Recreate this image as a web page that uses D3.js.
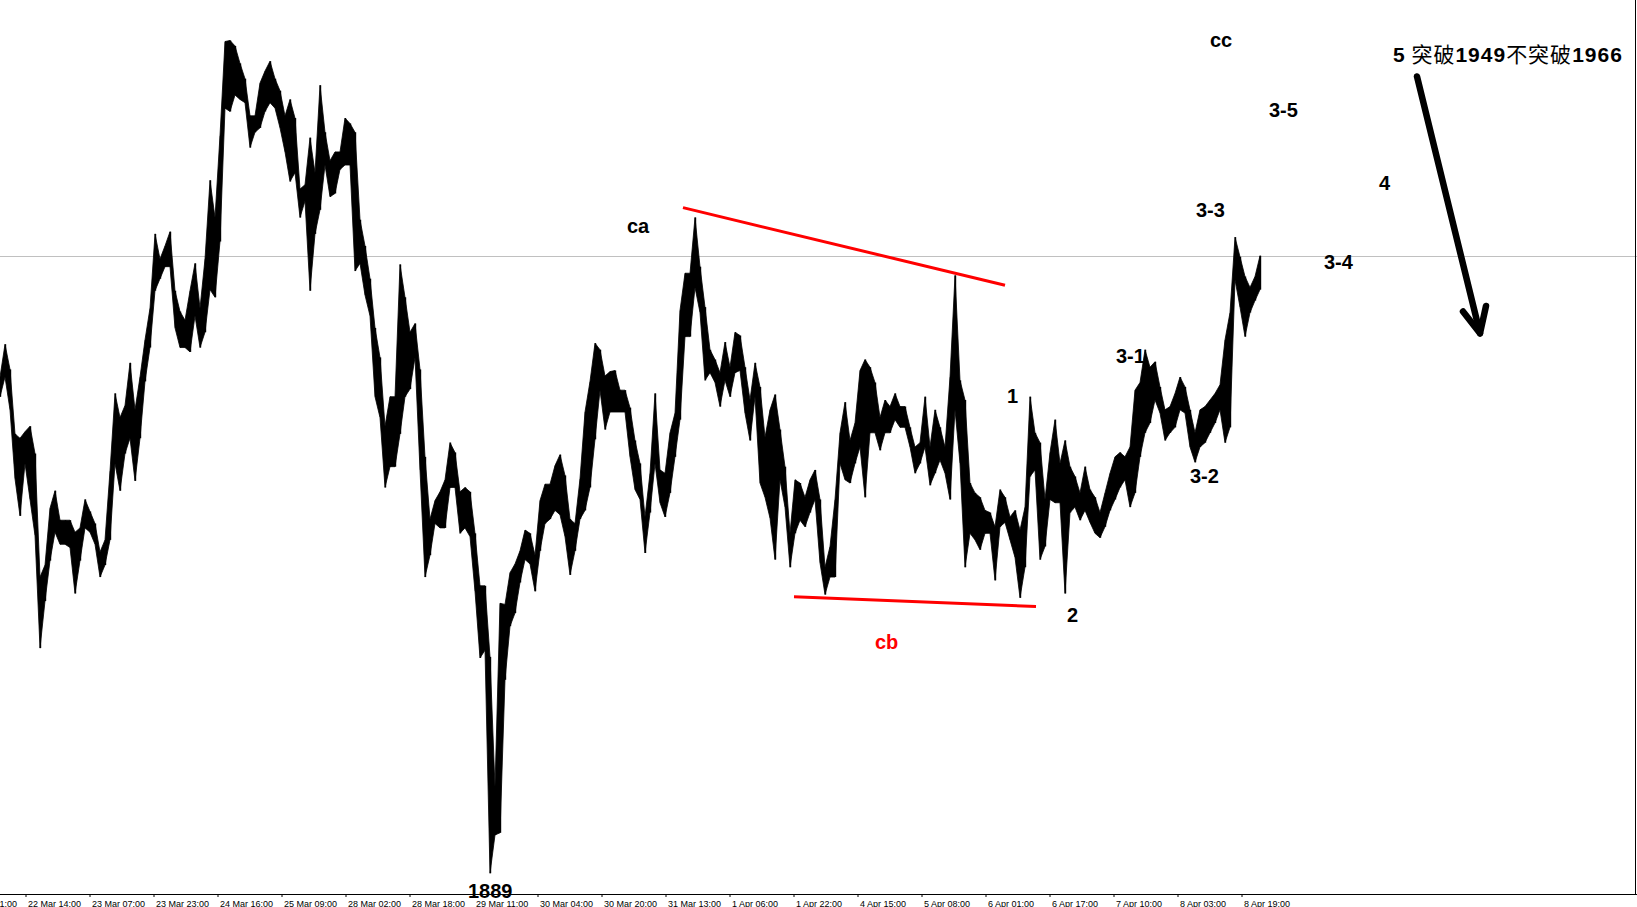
<!DOCTYPE html>
<html><head><meta charset="utf-8">
<script src="https://cdn.jsdelivr.net/npm/d3@7/dist/d3.min.js"></script>
<style>html,body{margin:0;padding:0;background:#fff;overflow:hidden}</style>
</head><body><svg id="c" width="1637" height="907"></svg>
<script>
// ---- data ----
const timeLabels = ["21 Mar 21:00","22 Mar 14:00","23 Mar 07:00","23 Mar 23:00","24 Mar 16:00","25 Mar 09:00",
  "28 Mar 02:00","28 Mar 18:00","29 Mar 11:00","30 Mar 04:00","30 Mar 20:00","31 Mar 13:00","1 Apr 06:00",
  "1 Apr 22:00","4 Apr 15:00","5 Apr 08:00","6 Apr 01:00","6 Apr 17:00","7 Apr 10:00","8 Apr 03:00","8 Apr 19:00"];

const barHigh = [
1935.2,1938.2,1935.9,1930.0,1929.6,1930.2,1930.7,1928.2,1916.9,1918.0,
1923.2,1924.8,1922.1,1922.1,1922.1,1921.0,1921.4,1924.0,1922.9,1921.8,
1919.2,1920.3,1926.6,1933.7,1931.5,1932.6,1936.5,1932.2,1935.2,1938.6,
1941.5,1948.3,1946.0,1947.2,1948.5,1943.1,1941.2,1940.4,1943.1,1945.6,
1941.5,1946.0,1953.2,1949.8,1957.3,1965.9,1966.0,1965.5,1963.9,1962.5,
1959.1,1959.1,1962.1,1963.2,1964.1,1962.5,1961.4,1959.1,1960.6,1958.9,
1952.4,1952.8,1957.1,1953.9,1961.9,1957.6,1955.0,1955.8,1955.8,1958.9,
1958.4,1957.6,1949.6,1947.2,1944.2,1939.7,1937.0,1930.7,1933.4,1933.4,
1945.5,1942.5,1939.3,1940.1,1935.9,1927.9,1922.2,1923.9,1924.7,1925.8,
1929.2,1928.3,1924.7,1925.1,1924.7,1920.9,1916.1,1916.1,1909.6,1897.7,
1914.5,1914.4,1917.3,1918.1,1919.3,1921.2,1920.9,1918.9,1923.9,1925.4,
1925.4,1927.1,1928.1,1926.2,1922.2,1921.8,1925.9,1932.0,1934.8,1938.3,
1937.7,1935.3,1935.7,1935.8,1934.0,1934.0,1932.4,1929.4,1927.3,1922.4,
1926.4,1933.7,1926.7,1926.4,1930.1,1931.9,1941.3,1944.7,1944.7,1949.8,
1945.3,1941.6,1937.7,1936.8,1935.6,1938.4,1936.1,1939.3,1939.0,1936.1,
1933.1,1936.5,1934.3,1929.7,1932.2,1933.6,1930.4,1927.0,1920.9,1925.8,
1925.5,1924.2,1925.8,1926.7,1924.0,1917.8,1919.7,1924.0,1930.1,1932.9,
1929.4,1931.0,1935.8,1936.8,1936.1,1934.7,1931.5,1933.1,1932.5,1933.7,
1932.5,1932.5,1930.6,1928.8,1929.2,1933.4,1928.8,1932.2,1930.6,1928.8,
1935.2,1944.5,1934.9,1933.1,1925.5,1924.6,1924.2,1923.0,1922.8,1921.5,
1924.9,1924.2,1922.4,1923.0,1921.2,1923.3,1933.4,1930.1,1929.2,1924.0,
1928.3,1931.3,1927.3,1929.4,1927.0,1926.1,1924.6,1927.0,1924.9,1924.2,
1922.8,1924.6,1926.4,1927.9,1928.3,1927.9,1928.8,1934.0,1934.7,1937.7,
1936.1,1936.6,1934.3,1932.2,1932.5,1933.7,1935.2,1934.3,1932.2,1930.1,
1932.2,1932.5,1933.1,1933.7,1934.5,1938.6,1941.1,1948.0,1946.2,1944.4,
1943.4,1944.4,1946.3];

const barLow = [
1933.4,1935.2,1932.2,1925.9,1922.5,1927.3,1924.0,1920.7,1910.4,1914.7,
1918.4,1921.0,1919.9,1919.9,1919.6,1915.4,1918.4,1921.4,1921.0,1919.9,
1916.9,1918.0,1920.3,1927.3,1924.8,1928.2,1929.6,1925.7,1929.6,1934.8,
1937.9,1943.1,1944.2,1945.3,1945.3,1939.7,1937.9,1937.9,1937.5,1940.8,
1937.9,1939.3,1943.2,1942.5,1947.6,1959.8,1959.5,1961.0,1960.6,1960.3,
1956.2,1957.6,1958.0,1959.5,1960.3,1959.8,1958.0,1955.8,1953.1,1953.9,
1949.8,1951.3,1943.1,1948.3,1950.5,1954.6,1951.7,1952.0,1954.2,1954.6,
1954.6,1944.9,1945.6,1942.7,1940.8,1933.4,1931.5,1925.1,1927.0,1927.0,
1930.0,1933.4,1934.1,1937.0,1926.7,1916.9,1918.9,1921.8,1921.4,1921.4,
1925.1,1925.1,1920.9,1921.4,1920.6,1915.6,1909.5,1910.2,1889.8,1893.3,
1893.5,1907.5,1912.4,1913.6,1916.4,1918.5,1918.1,1915.6,1919.3,1921.8,
1922.2,1923.0,1922.6,1920.6,1917.1,1919.3,1922.2,1923.0,1925.1,1929.5,
1934.0,1930.4,1932.0,1932.0,1932.0,1932.0,1927.9,1924.9,1924.0,1919.1,
1922.8,1927.3,1923.7,1922.4,1924.6,1927.9,1931.3,1938.9,1938.9,1943.4,
1941.1,1934.9,1935.6,1934.7,1932.5,1934.9,1933.4,1935.6,1935.8,1931.9,
1929.4,1933.4,1925.5,1924.2,1922.3,1918.5,1925.8,1923.3,1917.8,1920.9,
1922.1,1921.5,1922.8,1924.0,1918.2,1915.3,1916.9,1916.9,1927.3,1925.8,
1925.5,1927.3,1928.8,1924.2,1930.1,1930.1,1928.5,1930.1,1930.1,1931.3,
1930.6,1930.6,1928.8,1926.4,1927.3,1928.8,1925.3,1926.4,1927.6,1926.4,
1924.0,1932.2,1927.3,1917.8,1920.9,1920.3,1919.4,1920.9,1920.9,1916.6,
1921.5,1921.9,1920.3,1918.7,1915.0,1917.8,1926.1,1926.7,1918.5,1919.7,
1924.0,1923.7,1923.7,1915.4,1922.8,1923.3,1922.1,1923.0,1921.9,1920.9,
1920.5,1921.5,1923.0,1924.0,1925.1,1925.8,1923.3,1924.6,1927.9,1930.1,
1931.0,1933.1,1931.9,1929.4,1930.1,1930.6,1932.2,1931.9,1928.8,1927.4,
1928.8,1929.2,1930.1,1931.0,1932.2,1929.2,1930.6,1944.1,1941.6,1938.9,
1941.1,1942.2,1943.2];

const lastPrice = 1946.3;

// annotation anchors in (bar index, price)
const waveText  = ["ca","cb","cc","1","2","3-1","3-2","3-3","3-4","3-5","4","1889"];
const waveBar   = [125.4,175,242,201.4,213.4,223.2,238,239.2,264.8,253.8,275.8,93.6];
const wavePrice = [1948.4,1910.3,1965.4,1932.8,1912.8,1936.5,1925.5,1949.8,1945.1,1959.0,1952.3,1887.5];
const waveRed   = ["cb"];

const noteParts = [["5",true],[" 突破",false],["1949",true],["不突破",false],["1966",true]];
const noteAnchor = [278.6, 1964.0];

const trendFrom = [[136.6,1950.7],[158.8,1915.1]];
const trendTo   = [[201.0,1943.6],[207.2,1914.2]];

const arrowShaft = [[283.4,1962.7],[296.0,1939.2]];
const arrowWings = [[292.6,1941.2],[296.0,1939.2],[297.2,1941.7]];

// ---- layout ----
const W = 1637, H = 907, axisY = 894;
const svg = d3.select("#c");
const x = d3.scaleLinear().domain([0, barHigh.length - 1]).range([0, 1260]);
const y = d3.scaleLinear().domain([1887.9, 1969.7]).range([axisY, 0]);
const FONT = "'Liberation Sans', Arial, sans-serif";

// last price line
svg.append("line").attr("x1",0).attr("x2",W).attr("y1",Math.round(y(lastPrice))+0.5).attr("y2",Math.round(y(lastPrice))+0.5)
  .attr("stroke","#c0c0c0").attr("stroke-width",1);

// price bars as high-low band
const bars = barHigh.map((h,i)=>({i, h, l: barLow[i]}));
svg.append("path").datum(bars)
  .attr("d", d3.area().x(d=>x(d.i)).y0(d=>y(d.l)).y1(d=>y(d.h)).curve(d3.curveLinear))
  .attr("fill","#000").attr("stroke","#000").attr("stroke-width",0.8);
svg.append("g").selectAll("line").data(bars).join("line")
  .attr("x1",d=>x(d.i)+0.5).attr("x2",d=>x(d.i)+0.5)
  .attr("y1",d=>y(d.h)).attr("y2",d=>y(d.l))
  .attr("stroke","#000").attr("stroke-width",1.4);

// trend lines
svg.append("g").selectAll("line").data(trendFrom.map((f,i)=>[f,trendTo[i]])).join("line")
  .attr("x1",d=>x(d[0][0])).attr("y1",d=>y(d[0][1]))
  .attr("x2",d=>x(d[1][0])).attr("y2",d=>y(d[1][1]))
  .attr("stroke","#ff0000").attr("stroke-width",3);

// arrow
const ln = d3.line().x(d=>x(d[0])).y(d=>y(d[1]));
svg.append("path").attr("d", ln(arrowShaft)).attr("stroke","#000").attr("stroke-width",6.5)
  .attr("stroke-linecap","round").attr("fill","none");
svg.append("path").attr("d", ln(arrowWings)).attr("stroke","#000").attr("stroke-width",6.5)
  .attr("stroke-linecap","round").attr("stroke-linejoin","round").attr("fill","none");

// axis
svg.append("line").attr("x1",0).attr("x2",W).attr("y1",axisY+0.5).attr("y2",axisY+0.5).attr("stroke","#000");
svg.append("line").attr("x1",1635.5).attr("x2",1635.5).attr("y1",0).attr("y2",axisY).attr("stroke","#000");
const tickStartBar = -7.8, tickStepBar = 12.8;
const tickBars = timeLabels.map((_,i)=>tickStartBar + i*tickStepBar);
const ax = svg.append("g").attr("transform",`translate(0.5,${axisY})`)
  .call(d3.axisBottom(x).tickValues(tickBars).tickFormat((d,i)=>timeLabels[i]).tickSize(3).tickSizeOuter(0));
ax.select(".domain").remove();
ax.selectAll("line").attr("stroke","#000");
ax.selectAll("text").attr("text-anchor","start").attr("x",2).attr("y",12.5).attr("dy",null)
  .attr("font-family",FONT).attr("font-size",9).attr("fill","#000");

// wave labels
svg.append("g").selectAll("text").data(waveText).join("text")
  .attr("x",(d,i)=>x(waveBar[i])).attr("y",(d,i)=>y(wavePrice[i]))
  .attr("font-family",FONT).attr("font-weight","bold").attr("font-size",20)
  .attr("fill",d=>waveRed.includes(d)?"#ff0000":"#000").text(d=>d);

// note
const note = svg.append("text").attr("x",x(noteAnchor[0])).attr("y",y(noteAnchor[1]))
  .attr("font-size",21).attr("letter-spacing",1).attr("fill","#000");
note.selectAll("tspan").data(noteParts).join("tspan")
  .attr("font-family",d=>d[1]?FONT:"'Noto Sans CJK SC', sans-serif")
  .attr("font-weight",d=>d[1]?"bold":"normal").text(d=>d[0]);
</script></body></html>
